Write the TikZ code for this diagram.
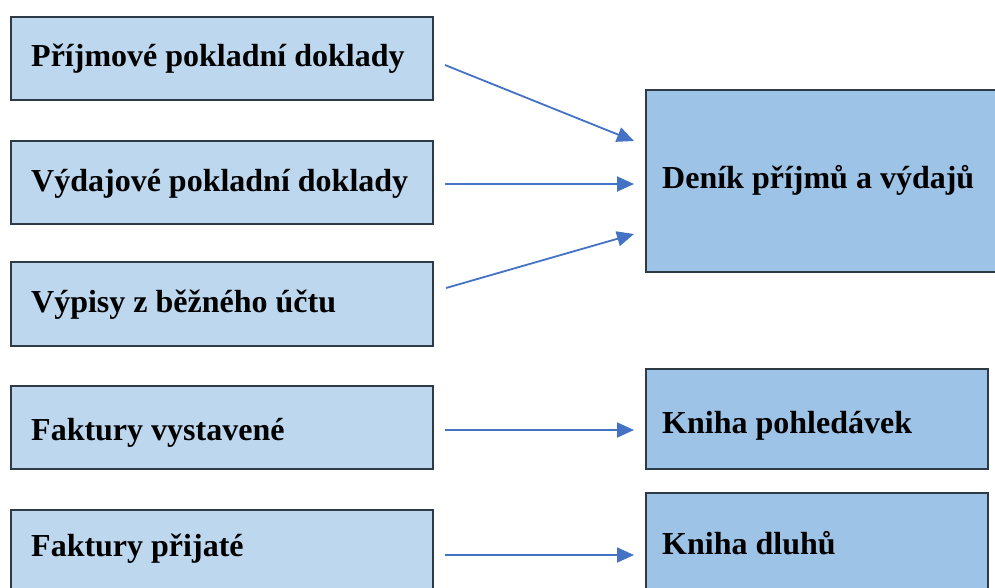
\documentclass[tikz,border=0pt]{standalone}
\usepackage{fontspec}
\setmainfont{Liberation Serif}
\usetikzlibrary{arrows.meta,calc}
\definecolor{lfill}{HTML}{BDD7EE}
\definecolor{rfill}{HTML}{9DC3E6}
\definecolor{bord}{HTML}{2E3A46}
\definecolor{arrc}{HTML}{4472C4}
\begin{document}
\begin{tikzpicture}[x=1pt,y=-1pt,
  lbox/.style={draw=bord,line width=2pt,fill=lfill,rectangle,inner sep=0pt,anchor=north west},
  rbox/.style={draw=bord,line width=2pt,fill=rfill,rectangle,inner sep=0pt,anchor=north west},
  txt/.style={anchor=base west,inner sep=0pt,font=\fontsize{32}{38}\selectfont\bfseries,text=black},
  arr/.style={draw=arrc,line width=1.8pt,-{Triangle[length=17pt,width=15pt]}}]
\useasboundingbox (0,0) rectangle (995,587);
\clip (0,0) rectangle (995,587);
\fill[white] (0,0) rectangle (995,587);
% left boxes
\node[lbox,minimum width=422pt,minimum height=83pt] (b1) at (10,16) {};
\node[lbox,minimum width=422pt,minimum height=83pt] (b2) at (10,140) {};
\node[lbox,minimum width=422pt,minimum height=84pt] (b3) at (10,261) {};
\node[lbox,minimum width=422pt,minimum height=83pt] (b4) at (10,385) {};
\node[lbox,minimum width=422pt,minimum height=90pt] (b5) at (10,509) {};
% right boxes
\node[rbox,minimum width=365pt,minimum height=182pt] (d) at (645,89) {};
\node[rbox,minimum width=342pt,minimum height=100pt] (k1) at (645,368) {};
\node[rbox,minimum width=342pt,minimum height=110pt] (k2) at (645,492) {};
% texts
\node[txt] (t1) at (31,66) {Příjmové pokladní doklady};
\node[txt] (t2) at (31,191) {Výdajové pokladní doklady};
\node[txt] (t3) at (31,312) {Výpisy z běžného účtu};
\node[txt] (t4) at (31,440) {Faktury vystavené};
\node[txt] (t5) at (31,556) {Faktury přijaté};
\node[txt] (td) at (662,188) {Deník příjmů a výdajů};
\node[txt] (tk1) at (662,433) {Kniha pohledávek};
\node[txt] (tk2) at (662,554) {Kniha dluhů};
% arrows
\draw[arr] ([xshift=11pt,yshift=-6.5pt]b1.east) -- ([xshift=-11pt,yshift=40pt]d.west);
\draw[arr] ([xshift=11pt,yshift=-1.5pt]b2.east) -- ([xshift=-11pt,yshift=-3pt]d.west);
\draw[arr] ([xshift=12pt,yshift=16pt]b3.east) -- ([xshift=-11pt,yshift=-53pt]d.west);
\draw[arr] ([xshift=11pt,yshift=-2.5pt]b4.east) -- ([xshift=-11pt,yshift=-11pt]k1.west);
\draw[arr] ([xshift=11pt]b5.east) -- ([xshift=-11pt,yshift=-7pt]k2.west);
\end{tikzpicture}
\end{document}
